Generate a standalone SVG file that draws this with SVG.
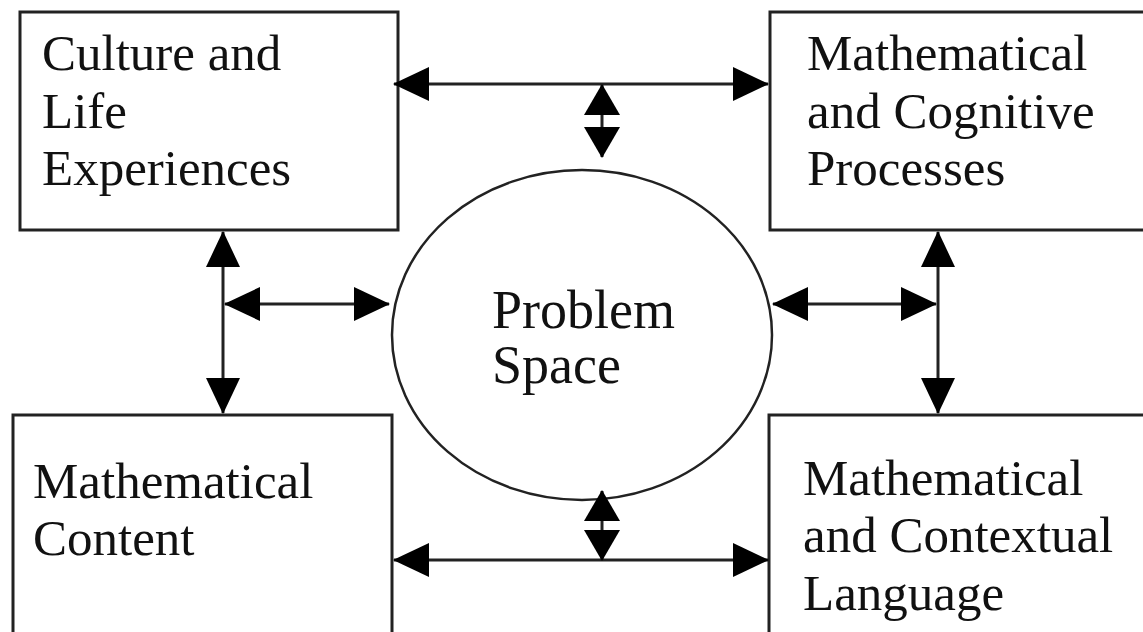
<svg xmlns="http://www.w3.org/2000/svg" width="1143" height="632" viewBox="0 0 1143 632">
<style>
.box{fill:#fff;stroke:#222;stroke-width:3}
.oval{fill:#fff;stroke:#222;stroke-width:2.5}
.lbl{font-family:"Liberation Serif","Times New Roman",serif;font-size:51px;fill:#111}
.big{font-size:54px}
.conn{stroke:#222;stroke-width:3;fill:none;marker-start:url(#head);marker-end:url(#head)}
.conn.s{marker-start:url(#heads);marker-end:url(#heads)}
</style>
<defs>
<marker id="head" markerUnits="userSpaceOnUse" markerWidth="36" markerHeight="34" refX="35" refY="17" orient="auto-start-reverse" viewBox="0 0 36 34"><path d="M0,0 L36,17 L0,34 z" fill="#000"/></marker>
<marker id="heads" markerUnits="userSpaceOnUse" markerWidth="31" markerHeight="36" refX="30" refY="18" orient="auto-start-reverse" viewBox="0 0 31 36"><path d="M0,0 L31,18 L0,36 z" fill="#000"/></marker>
</defs>
<rect width="1143" height="632" fill="#fff"/>
<g id="culture">
<rect class="box" x="20" y="12" width="378" height="218"/>
<text class="lbl" x="42" y="70">Culture and</text>
<text class="lbl" x="42" y="128">Life</text>
<text class="lbl" x="42" y="185">Experiences</text>
</g>
<g id="cognitive">
<rect class="box" x="770" y="12" width="390" height="218"/>
<text class="lbl" x="807" y="70">Mathematical</text>
<text class="lbl" x="807" y="128">and Cognitive</text>
<text class="lbl" x="807" y="185">Processes</text>
</g>
<g id="content">
<rect class="box" x="13" y="415" width="379" height="240"/>
<text class="lbl" x="33" y="498">Mathematical</text>
<text class="lbl" x="33" y="555">Content</text>
</g>
<g id="language">
<rect class="box" x="769" y="415" width="390" height="240"/>
<text class="lbl" x="803" y="495">Mathematical</text>
<text class="lbl" x="803" y="552">and Contextual</text>
<text class="lbl" x="803" y="610">Language</text>
</g>
<g id="problem">
<ellipse class="oval" cx="582" cy="335" rx="190" ry="165"/>
<text class="lbl big" x="492" y="328">Problem</text>
<text class="lbl big" x="492" y="383">Space</text>
</g>
<g id="connectors">
<line class="conn" x1="394" y1="84" x2="768" y2="84"/>
<line class="conn s" x1="602" y1="85" x2="602" y2="157"/>
<line class="conn" x1="223" y1="232" x2="223" y2="413"/>
<line class="conn" x1="225" y1="304" x2="389" y2="304"/>
<line class="conn" x1="938" y1="232" x2="938" y2="413"/>
<line class="conn" x1="773" y1="304" x2="936" y2="304"/>
<line class="conn" x1="394" y1="560" x2="768" y2="560"/>
<line class="conn s" x1="602" y1="491" x2="602" y2="560"/>
</g>
</svg>
